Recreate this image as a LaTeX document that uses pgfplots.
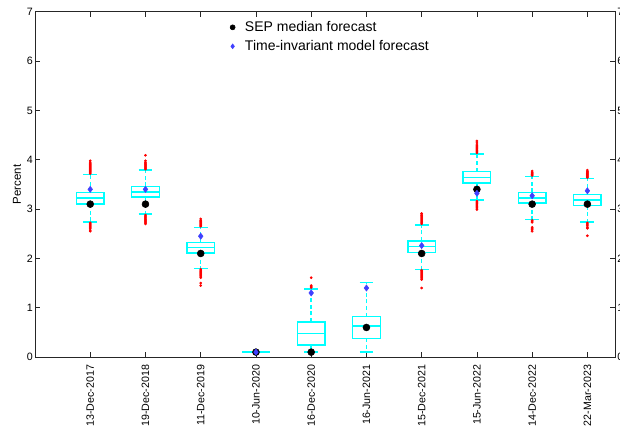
\documentclass[border=0pt]{standalone}
\usepackage{fontspec}
\setmainfont{Liberation Sans}
\usepackage{pgfplots}
\pgfplotsset{compat=1.18}
\usepgfplotslibrary{statistics}
\definecolor{boxcyan}{RGB}{0,255,255}
\definecolor{mblue}{RGB}{64,64,255}
\definecolor{axgray}{RGB}{38,38,38}
\begin{document}
\begin{tikzpicture}
\begin{axis}[
  name=main,
  scale only axis, width=435pt, height=259pt,
  xmin=0, xmax=10.5, ymin=0, ymax=7,
  xtick={1,2,3,4,5,6,7,8,9,10},
  xticklabels={13-Dec-2017,19-Dec-2018,11-Dec-2019,10-Jun-2020,16-Dec-2020,16-Jun-2021,15-Dec-2021,15-Jun-2022,14-Dec-2022,22-Mar-2023},
  xticklabel style={rotate=90, anchor=east, font=\fontsize{8}{9.6}\selectfont},
  xticklabel shift=2.4pt,
  ytick={0,1,2,3,4,5,6,7},
  yticklabel style={font=\fontsize{8}{9.6}\selectfont, inner sep=1.5pt},
  /pgf/number format/assume math mode=true,
  ylabel={Percent},
  ylabel style={font=\fontsize{8.6}{10}\selectfont, at={(axis description cs:-0.031,0.5)}, anchor=center},
  tick align=inside, major tick length=4pt,
  axis line style={axgray, line width=0.5pt},
  tick style={axgray, line width=0.5pt},
  boxplot/draw direction=y,
  boxplot/box extend=0.5,
  boxplot/whisker extend=0.25,
  boxplot/draw/box/.code={%
    \draw[draw=boxcyan, line width=1.1pt, solid]
      (boxplot box cs:\pgfplotsboxplotvalue{lower quartile},0) rectangle (boxplot box cs:\pgfplotsboxplotvalue{upper quartile},1);
  },
  boxplot/draw/median/.code={%
    \draw[draw=boxcyan, line width=1.1pt, solid]
      (boxplot box cs:\pgfplotsboxplotvalue{median},0) -- (boxplot box cs:\pgfplotsboxplotvalue{median},1);
  },
  boxplot/draw/lower whisker/.code={%
    \draw[draw=boxcyan, line width=1.1pt, dash pattern=on 3pt off 2pt]
      (boxplot cs:\pgfplotsboxplotvalue{lower quartile}) -- (boxplot cs:\pgfplotsboxplotvalue{lower whisker});
    \draw[draw=boxcyan, line width=1.1pt, solid]
      (boxplot whisker cs:\pgfplotsboxplotvalue{lower whisker},0) -- (boxplot whisker cs:\pgfplotsboxplotvalue{lower whisker},1);
  },
  boxplot/draw/upper whisker/.code={%
    \draw[draw=boxcyan, line width=1.1pt, dash pattern=on 3pt off 2pt]
      (boxplot cs:\pgfplotsboxplotvalue{upper quartile}) -- (boxplot cs:\pgfplotsboxplotvalue{upper whisker});
    \draw[draw=boxcyan, line width=1.1pt, solid]
      (boxplot whisker cs:\pgfplotsboxplotvalue{upper whisker},0) -- (boxplot whisker cs:\pgfplotsboxplotvalue{upper whisker},1);
  },
  legend style={draw=none, fill=none, inner sep=0pt, outer sep=0pt,
    font=\fontsize{10.5}{12}\selectfont,
    at={(0.3305,0.977)}, anchor=north west, row sep=2.75pt,
    nodes={inner sep=0.5pt, text height=8pt, text depth=2.5pt}},
  legend cell align=left,
  legend image code/.code={\path (-0.15cm,0cm) (0.3cm,0cm); \draw[#1] plot coordinates {(0cm,0cm)};},
]
% boxes: lower whisker, lower quartile, median, upper quartile, upper whisker
\addplot[boxcyan, forget plot, boxplot prepared={draw position=1, lower whisker=2.74, lower quartile=3.10, median=3.22, upper quartile=3.34, upper whisker=3.70}] coordinates {};
\addplot[boxcyan, forget plot, boxplot prepared={draw position=2, lower whisker=2.90, lower quartile=3.24, median=3.35, upper quartile=3.46, upper whisker=3.79}] coordinates {};
\addplot[boxcyan, forget plot, boxplot prepared={draw position=3, lower whisker=1.80, lower quartile=2.11, median=2.22, upper quartile=2.32, upper whisker=2.63}] coordinates {};
\addplot[boxcyan, forget plot, boxplot prepared={draw position=4, lower whisker=0.10, lower quartile=0.10, median=0.10, upper quartile=0.10, upper whisker=0.10}] coordinates {};
\addplot[boxcyan, forget plot, boxplot prepared={draw position=5, lower whisker=0.10, lower quartile=0.24, median=0.48, upper quartile=0.71, upper whisker=1.38}] coordinates {};
\addplot[boxcyan, forget plot, boxplot prepared={draw position=6, lower whisker=0.10, lower quartile=0.38, median=0.63, upper quartile=0.82, upper whisker=1.51}] coordinates {};
\addplot[boxcyan, forget plot, boxplot prepared={draw position=7, lower whisker=1.78, lower quartile=2.12, median=2.24, upper quartile=2.35, upper whisker=2.68}] coordinates {};
\addplot[boxcyan, forget plot, boxplot prepared={draw position=8, lower whisker=3.18, lower quartile=3.53, median=3.64, upper quartile=3.76, upper whisker=4.12}] coordinates {};
\addplot[boxcyan, forget plot, boxplot prepared={draw position=9, lower whisker=2.79, lower quartile=3.12, median=3.22, upper quartile=3.34, upper whisker=3.66}] coordinates {};
\addplot[boxcyan, forget plot, boxplot prepared={draw position=10, lower whisker=2.74, lower quartile=3.07, median=3.18, upper quartile=3.30, upper whisker=3.62}] coordinates {};
% outliers
\addplot[only marks, mark=*, mark size=0.8pt, red, forget plot] coordinates {
(1,3.72)(1,3.74)(1,3.76)(1,3.78)(1,3.80)(1,3.82)(1,3.84)(1,3.86)(1,3.88)(1,3.90)(1,3.92)(1,3.95)(1,3.98)
(1,2.72)(1,2.70)(1,2.68)(1,2.66)(1,2.64)(1,2.62)(1,2.60)(1,2.57)(1,2.55)
(2,3.81)(2,3.83)(2,3.85)(2,3.87)(2,3.89)(2,3.91)(2,3.93)(2,3.95)(2,3.98)(2,4.09)
(2,2.88)(2,2.86)(2,2.84)(2,2.82)(2,2.80)(2,2.78)(2,2.76)(2,2.74)(2,2.72)(2,2.70)
(3,2.65)(3,2.67)(3,2.69)(3,2.71)(3,2.73)(3,2.75)(3,2.77)(3,2.80)
(3,1.78)(3,1.76)(3,1.74)(3,1.72)(3,1.70)(3,1.68)(3,1.66)(3,1.64)(3,1.61)(3,1.50)(3,1.45)
(5,1.41)(5,1.43)(5,1.45)(5,1.61)
(7,2.70)(7,2.72)(7,2.74)(7,2.76)(7,2.78)(7,2.80)(7,2.82)(7,2.84)(7,2.86)(7,2.88)(7,2.91)
(7,1.76)(7,1.74)(7,1.72)(7,1.70)(7,1.68)(7,1.66)(7,1.64)(7,1.62)(7,1.60)(7,1.57)(7,1.40)
(8,4.14)(8,4.16)(8,4.18)(8,4.20)(8,4.22)(8,4.24)(8,4.26)(8,4.28)(8,4.30)(8,4.34)(8,4.38)
(8,3.16)(8,3.14)(8,3.12)(8,3.10)(8,3.08)(8,3.06)(8,3.04)(8,3.02)(8,2.99)
(9,3.68)(9,3.70)(9,3.72)(9,3.74)(9,3.77)
(9,2.77)(9,2.75)(9,2.73)(9,2.63)(9,2.61)(9,2.58)(9,2.55)
(10,3.64)(10,3.66)(10,3.68)(10,3.70)(10,3.72)(10,3.74)(10,3.76)(10,3.79)
(10,2.72)(10,2.70)(10,2.68)(10,2.66)(10,2.63)(10,2.61)(10,2.46)
};
% SEP median forecast
\addplot[only marks, mark=*, mark size=2.6pt, black, legend image post style={mark size=1.9pt}] coordinates {
(1,3.1)(2,3.1)(3,2.1)(4,0.1)(5,0.1)(6,0.6)(7,2.1)(8,3.4)(9,3.1)(10,3.1)};
\addlegendentry{SEP median forecast}
% Time-invariant model forecast
\addplot[only marks, mark=diamond*, mark size=2.3pt, mblue, legend image post style={mark size=1.8pt}] coordinates {
(1,3.40)(2,3.40)(3,2.45)(4,0.10)(5,1.30)(6,1.40)(7,2.26)(8,3.32)(9,3.27)(10,3.37)};
\addlegendentry{Time-invariant model forecast}
\end{axis}
\begin{axis}[
  scale only axis, width=435pt, height=259pt,
  xmin=0, xmax=10.5, ymin=0, ymax=7,
  axis x line=none, axis y line*=right,
  axis line style={draw=none},
  ytick={0,1,2,3,4,5,6,7}, ytick style={draw=none},
  yticklabel style={font=\fontsize{8}{9.6}\selectfont, inner sep=1.5pt},
  /pgf/number format/assume math mode=true,
]
\addplot[draw=none, forget plot] coordinates {(1,0)};
\end{axis}
\pgfresetboundingbox
\path ([shift={(-26.25pt,-53.25pt)}]main.south west) rectangle ([shift={(3.75pt,8.8pt)}]main.north east);
\end{tikzpicture}
\end{document}
